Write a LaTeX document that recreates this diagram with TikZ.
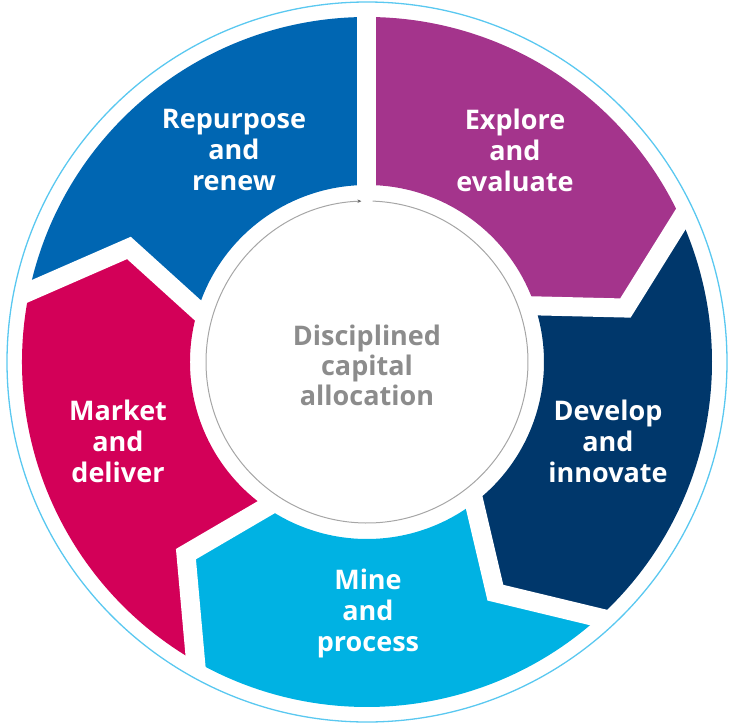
\documentclass[tikz,border=0pt]{standalone}
\usepackage{xcolor}
\usepackage{fontspec}
\setmainfont{Open Sans}
\usetikzlibrary{arrows.meta,positioning}
\definecolor{repurposeblue}{RGB}{0,102,178}
\definecolor{explorepurple}{RGB}{164,52,140}
\definecolor{developnavy}{RGB}{0,55,107}
\definecolor{minecyan}{RGB}{0,178,227}
\definecolor{marketpink}{RGB}{211,0,88}
\definecolor{rimblue}{RGB}{90,200,240}
\definecolor{hubgrey}{RGB}{140,140,140}

\begin{document}
\begin{tikzpicture}[x=1pt,y=1pt]
      \useasboundingbox (-367,-362) rectangle (364,362);
      \coordinate (b1o) at (90:345);
      \coordinate (b1v) at (90:264);
      \coordinate (b1i) at (90:177);
      \coordinate (b2o) at (24.5:345);
      \coordinate (b2v) at (11.8:264);
      \coordinate (b2i) at (18.5:177);
      \coordinate (b3o) at (-47.8:345);
      \coordinate (b3v) at (-60.9:264);
      \coordinate (b3i) at (-52.7:177);
      \coordinate (b4o) at (-119.8:345);
      \coordinate (b4v) at (-133.3:264);
      \coordinate (b4i) at (-124.8:177);
      \coordinate (b5o) at (168.2:345);
      \coordinate (b5v) at (154.4:264);
      \coordinate (b5i) at (163:177);
      \fill[explorepurple] (b1o) arc[start angle=90, end angle=24.5, radius=345] -- (b2v) -- (b2i)
            arc[start angle=18.5, end angle=90, radius=177] -- (b1v) -- cycle;
      \fill[developnavy] (b2o) arc[start angle=24.5, end angle=-47.8, radius=345] -- (b3v) -- (b3i)
            arc[start angle=-52.7, end angle=18.5, radius=177] -- (b2v) -- cycle;
      \fill[minecyan] (b3o) arc[start angle=-47.8, end angle=-119.8, radius=345] -- (b4v) -- (b4i)
            arc[start angle=-124.8, end angle=-52.7, radius=177] -- (b3v) -- cycle;
      \fill[marketpink] (b4o) arc[start angle=-119.8, end angle=-191.8, radius=345] -- (b5v) -- (b5i)
            arc[start angle=-197, end angle=-124.8, radius=177] -- (b4v) -- cycle;
      \fill[repurposeblue] (b5o) arc[start angle=168.2, end angle=90, radius=345] -- (b1v) -- (b1i)
            arc[start angle=90, end angle=163, radius=177] -- (b5v) -- cycle;
      \begin{scope}[every path/.style={draw=white,line width=19pt,line join=miter,shorten <=-10pt,shorten >=-10pt}]
      \path (b1o) -- (b1v) -- (b1i);
      \path (b2o) -- (b2v) -- (b2i);
      \path (b3o) -- (b3v) -- (b3i);
      \path (b4o) -- (b4v) -- (b4i);
      \path (b5o) -- (b5v) -- (b5i);
      \end{scope}
      \draw[rimblue,line width=1.3pt] (0,0) circle[radius=360];
      \draw[black!35,line width=1pt,-{Stealth[length=4pt,width=3.5pt,black!60]}] (88:161) arc[start angle=88, end angle=-268, radius=161];
      \begin{scope}[every node/.style={text=white,align=center,font=\bfseries\fontsize{27}{31}\selectfont}]
      \node (repurpose) at (-133,212) {Repurpose\\and\\renew};
      \node (explore) at (148,212) {Explore\\and\\evaluate};
      \node (develop) at (241,-79) {Develop\\and\\innovate};
      \node (mine) at (1,-251) {Mine\\and\\process};
      \node (market) at (-249,-79) {Market\\and\\deliver};
      \end{scope}
      \node[text=hubgrey,align=center,font=\bfseries\fontsize{27}{30}\selectfont] (hub) at (0,-3) {Disciplined\\capital\\allocation};
      \end{tikzpicture}
\end{document}
